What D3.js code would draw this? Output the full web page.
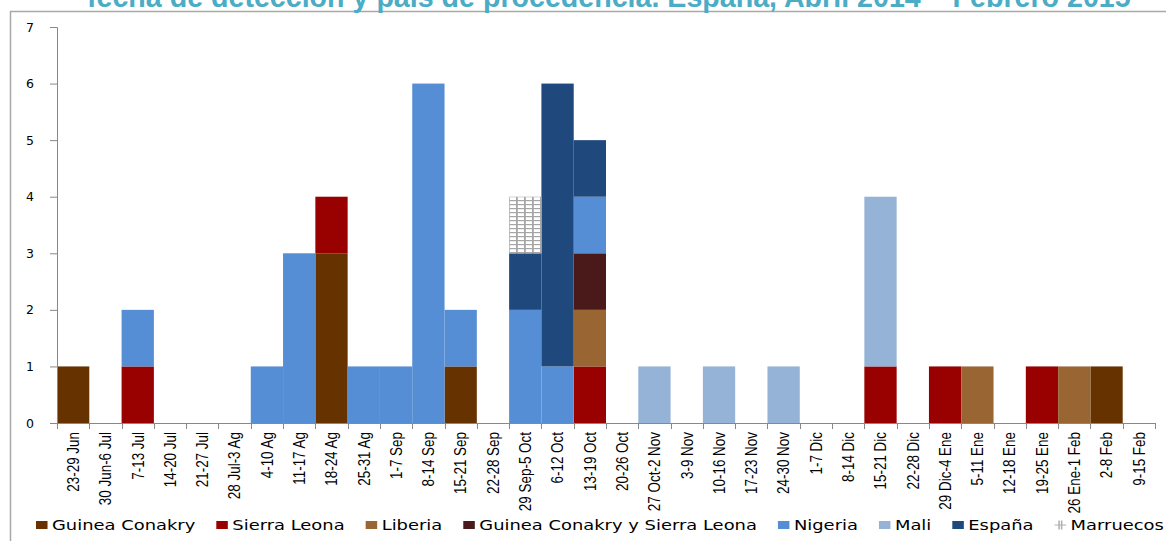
<!DOCTYPE html>
<html>
<head>
<meta charset="utf-8">
<script src="https://cdn.jsdelivr.net/npm/d3@7"></script>
<style>
  html, body { margin: 0; padding: 0; background: #fff; }
  svg { display: block; }
</style>
</head>
<body>
<svg id="chart" width="1166" height="541"></svg>
<script>
// Weekly imported cases by week of detection and country of origin
const categories = [
  "23-29 Jun", "30 Jun-6 Jul", "7-13 Jul", "14-20 Jul", "21-27 Jul", "28 Jul-3 Ag",
  "4-10 Ag", "11-17 Ag", "18-24 Ag", "25-31 Ag", "1-7 Sep", "8-14 Sep",
  "15-21 Sep", "22-28 Sep", "29 Sep-5 Oct", "6-12 Oct", "13-19 Oct", "20-26 Oct",
  "27 Oct-2 Nov", "3-9 Nov", "10-16 Nov", "17-23 Nov", "24-30 Nov", "1-7 Dic",
  "8-14 Dic", "15-21 Dic", "22-28 Dic", "29 Dic-4 Ene", "5-11 Ene", "12-18 Ene",
  "19-25 Ene", "26 Ene-1 Feb", "2-8 Feb", "9-15 Feb"
];

const guineaConakry   = [1,0,0,0,0,0,0,0,3,0,0,0,1,0,0,0,0,0,0,0,0,0,0,0,0,0,0,0,0,0,0,0,1,0];
const sierraLeona     = [0,0,1,0,0,0,0,0,1,0,0,0,0,0,0,0,1,0,0,0,0,0,0,0,0,1,0,1,0,0,1,0,0,0];
const liberia         = [0,0,0,0,0,0,0,0,0,0,0,0,0,0,0,0,1,0,0,0,0,0,0,0,0,0,0,0,1,0,0,1,0,0];
const guineaYSierra   = [0,0,0,0,0,0,0,0,0,0,0,0,0,0,0,0,1,0,0,0,0,0,0,0,0,0,0,0,0,0,0,0,0,0];
const nigeria         = [0,0,1,0,0,0,1,3,0,1,1,6,1,0,2,1,1,0,0,0,0,0,0,0,0,0,0,0,0,0,0,0,0,0];
const mali            = [0,0,0,0,0,0,0,0,0,0,0,0,0,0,0,0,0,0,1,0,1,0,1,0,0,3,0,0,0,0,0,0,0,0];
const espana          = [0,0,0,0,0,0,0,0,0,0,0,0,0,0,1,5,1,0,0,0,0,0,0,0,0,0,0,0,0,0,0,0,0,0];
const marruecos       = [0,0,0,0,0,0,0,0,0,0,0,0,0,0,1,0,0,0,0,0,0,0,0,0,0,0,0,0,0,0,0,0,0,0];

const seriesNames = ["Guinea Conakry", "Sierra Leona", "Liberia", "Guinea Conakry y Sierra Leona",
                     "Nigeria", "Mali", "España", "Marruecos"];
const seriesValues = [guineaConakry, sierraLeona, liberia, guineaYSierra, nigeria, mali, espana, marruecos];
const seriesColors = ["#663300", "#990000", "#996633", "#4a1a1a", "#558ed5", "#95b3d7", "#1f497d", "url(#grid)"];
const yTicks = [0, 1, 2, 3, 4, 5, 6, 7];

const titleText = "fecha de detección y país de procedencia. España, Abril 2014 – Febrero 2015";

const svg = d3.select("#chart");

// Grid fill used for the Marruecos series
const defs = svg.append("defs");
const pat = defs.append("pattern")
  .attr("id", "grid").attr("patternUnits", "userSpaceOnUse")
  .attr("x", 1).attr("y", 0).attr("width", 8).attr("height", 4);
pat.append("rect").attr("width", 8).attr("height", 4).attr("fill", "#fff");
pat.append("rect").attr("x", 0).attr("y", 0).attr("width", 8).attr("height", 1.2).attr("fill", "#a6a6a6");
pat.append("rect").attr("x", 3).attr("y", 0).attr("width", 1.8).attr("height", 4).attr("fill", "#a6a6a6");

// Outer frame (top and left edges)
svg.append("line").attr("x1", 10).attr("x2", 1166).attr("y1", 11.5).attr("y2", 11.5)
  .attr("stroke", "#a9a9a9").attr("stroke-width", 1.5);
svg.append("line").attr("x1", 10.5).attr("x2", 10.5).attr("y1", 11).attr("y2", 541)
  .attr("stroke", "#a9a9a9").attr("stroke-width", 1.5);

// Title, partly above the visible area
const title = svg.append("text")
  .attr("font-family", "Liberation Sans, Arial, sans-serif")
  .attr("font-weight", "bold")
  .attr("font-size", 100)
  .attr("fill", "#4bacc6")
  .text(titleText);
const tw = title.node().getComputedTextLength();
const titleSize = 100 * 1044 / tw;
title.attr("font-size", titleSize)
  .attr("x", 87).attr("y", 7);

// Scales
const x = d3.scaleBand().domain(categories).range([57, 1155]).padding(0);
const y = d3.scaleLinear().domain([0, 7]).range([423, 27]);

// Stacked data
const rows = categories.map((c, i) => {
  const r = { cat: c };
  seriesNames.forEach((s, k) => { r[s] = seriesValues[k][i]; });
  return r;
});
const stacked = d3.stack().keys(seriesNames)(rows);

const g = svg.append("g");
g.selectAll("g.layer")
  .data(stacked)
  .join("g")
  .attr("class", "layer")
  .attr("fill", (d, i) => seriesColors[i])
  .selectAll("rect")
  .data(d => d.filter(p => p[1] > p[0]))
  .join("rect")
  .attr("x", d => x(d.data.cat))
  .attr("width", x.bandwidth())
  .attr("y", d => y(d[1]))
  .attr("height", d => y(d[0]) - y(d[1]));

// Y axis
const yAxis = svg.append("g")
  .attr("transform", "translate(57,0)")
  .call(d3.axisLeft(y).tickValues(yTicks).tickFormat(d3.format("d")).tickSize(7).tickPadding(16));
yAxis.select(".domain").attr("stroke", "#888");
yAxis.selectAll(".tick line").attr("stroke", "#888");
yAxis.selectAll(".tick text")
  .attr("font-family", "DejaVu Sans, Verdana, sans-serif")
  .attr("font-size", 12.5)
  .attr("fill", "#000");

// X axis: baseline, boundary ticks, rotated condensed labels
const xAxis = svg.append("g");
xAxis.append("line")
  .attr("x1", x.range()[0]).attr("x2", x.range()[1])
  .attr("y1", y(0) + 0.5).attr("y2", y(0) + 0.5)
  .attr("stroke", "#888");
const bounds = categories.map(c => x(c)).concat([x.range()[1]]);
xAxis.selectAll("line.tick")
  .data(bounds)
  .join("line")
  .attr("class", "tick")
  .attr("x1", d => Math.round(d) + 0.5).attr("x2", d => Math.round(d) + 0.5)
  .attr("y1", y(0)).attr("y2", y(0) + 6)
  .attr("stroke", "#888");
xAxis.selectAll("text")
  .data(categories)
  .join("text")
  .attr("transform", d => `translate(${x(d) + x.bandwidth() / 2},432) rotate(-90) scale(0.84,1)`)
  .attr("text-anchor", "end")
  .attr("dy", "0.36em")
  .attr("font-family", "Liberation Sans, Arial, sans-serif")
  .attr("font-size", 16)
  .attr("fill", "#000")
  .text(d => d);

// Legend (horizontally widened)
const sx = 1.28;
const legend = svg.append("g").attr("transform", `scale(${sx},1)`);
let lx = 36 / sx;
seriesNames.forEach((name, i) => {
  if (seriesColors[i].startsWith("url")) {
    // grid series shown as a small gray cross
    legend.append("path")
      .attr("d", `M${lx},525H${lx + 9}M${lx + 3.5},520.5V529.5M${lx + 5.5},520.5V529.5`)
      .attr("stroke", "#b0b0b0").attr("stroke-width", 1.2).attr("fill", "none");
  } else {
    legend.append("rect")
      .attr("x", lx).attr("y", 521).attr("width", 9).attr("height", 8)
      .attr("fill", seriesColors[i]);
  }
  const t = legend.append("text")
    .attr("x", lx + 12.5).attr("y", 525)
    .attr("dy", "0.36em")
    .attr("font-family", "DejaVu Sans, Verdana, sans-serif")
    .attr("font-size", 14)
    .attr("fill", "#000")
    .text(name);
  lx += 12.5 + t.node().getComputedTextLength() + 16.4;
});
</script>
</body>
</html>
